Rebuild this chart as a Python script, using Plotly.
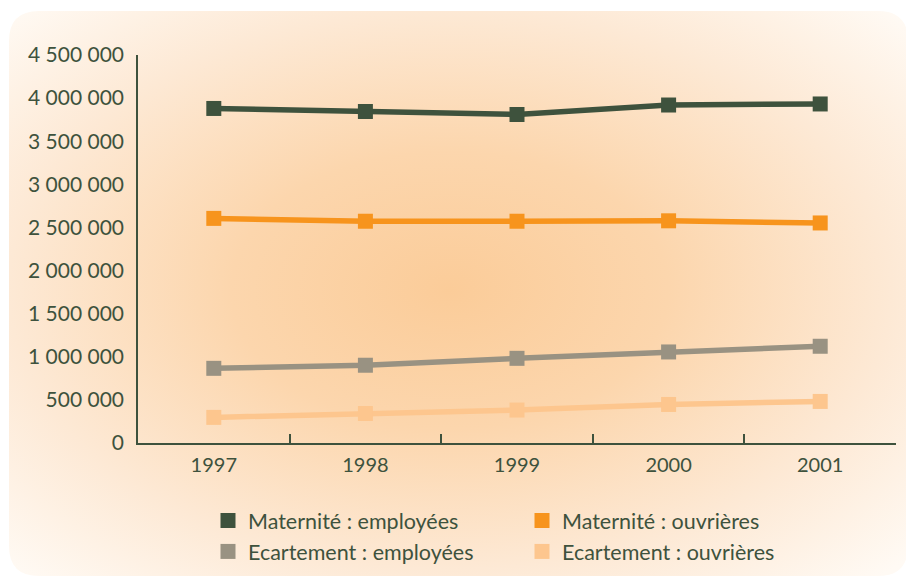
import plotly.graph_objects as go

years = ["1997", "1998", "1999", "2000", "2001"]
mat_employees = [3880000, 3845000, 3810000, 3920000, 3932000]
mat_ouvrieres = [2605000, 2572000, 2572000, 2577000, 2552000]
ecart_employees = [866000, 902000, 982000, 1056000, 1122000]
ecart_ouvrieres = [297000, 342000, 382000, 447000, 482000]

names = ["Maternité : employées", "Maternité : ouvrières",
         "Ecartement : employées", "Ecartement : ouvrières"]
series = [mat_employees, mat_ouvrieres, ecart_employees, ecart_ouvrieres]
colors = ["#3e523d", "#f7941d", "#999282", "#fdc68e"]

TXT = "#3e523d"
FONT = "Lato"
W, H = 906, 577

fig = go.Figure()

# radial gradient background (large ellipse bbox so that corners fade to white)
cx, cy, A, B = 450, 290, 624, 395
fig.add_trace(go.Scatter(
    x=[cx - A, cx + A, cx + A, cx - A, cx - A],
    y=[cy - B, cy - B, cy + B, cy + B, cy - B],
    mode="lines", line=dict(width=0), fill="toself",
    fillgradient=dict(type="radial",
                      colorscale=[[0, "#fbcc99"], [0.35, "#fcd6ad"],
                                  [0.707, "#fde9d5"], [1, "#fffaf4"]]),
    hoverinfo="skip", showlegend=False, xaxis="x", yaxis="y"))

for name, vals, col in zip(names, series, colors):
    fig.add_trace(go.Scatter(
        x=years, y=vals, mode="lines+markers", name=name,
        line=dict(color=col, width=5.5),
        marker=dict(symbol="square", size=15, color=col),
        showlegend=False, xaxis="x2", yaxis="y2"))

# legend entries (markers only)
for i, (name, col) in enumerate(zip(names, colors)):
    fig.add_trace(go.Scatter(
        x=[None], y=[None], mode="markers", name=name,
        marker=dict(symbol="square", size=15, color=col),
        legend="legend" if i % 2 == 0 else "legend2",
        legendgroup=name, xaxis="x2", yaxis="y2"))

# white mask outside the rounded card
L, T, R, Bm, r = 9, 11, 908, 576, 30
card = (f"M{L},{T + r} Q{L},{T} {L + r},{T} L{R - r},{T} Q{R},{T} {R},{T + r} "
        f"L{R},{Bm - r} Q{R},{Bm} {R - r},{Bm} L{L + r},{Bm} Q{L},{Bm} {L},{Bm - r} Z")
outer = f"M-5,-5 L{W + 5},-5 L{W + 5},{H + 5} L-5,{H + 5} Z "
fig.add_shape(type="path", path=outer + card, xref="x", yref="y",
              fillcolor="white", line=dict(width=0), fillrule="evenodd",
              layer="above")

fig.update_layout(
    width=W, height=H,
    margin=dict(l=0, r=0, t=0, b=0, autoexpand=False),
    paper_bgcolor="white",
    plot_bgcolor="rgba(0,0,0,0)",
    separators=", ",
    font=dict(family=FONT, color=TXT, size=20),
    xaxis=dict(domain=[0, 1], range=[0, W], visible=False, fixedrange=True,
               automargin=False),
    yaxis=dict(domain=[0, 1], range=[H, 0], visible=False, fixedrange=True,
               automargin=False),
    xaxis2=dict(domain=[138 / W, 896 / W], anchor="y2", type="category",
                range=[-0.5, 4.5], automargin=False,
                showline=True, linecolor=TXT, linewidth=1.5,
                ticks="inside", tickson="boundaries", ticklen=9, tickcolor=TXT,
                tickwidth=1.5, showgrid=False, zeroline=False,
                ticklabelstandoff=3,
                tickfont=dict(size=20, color=TXT, family=FONT)),
    yaxis2=dict(domain=[(H - 443) / H, (H - 55) / H], anchor="x2",
                range=[0, 4500000], dtick=500000, tick0=0, automargin=False,
                showline=True, linecolor=TXT, linewidth=1.5,
                ticks="", showgrid=False, zeroline=False,
                tickformat=",d", ticklabelstandoff=8,
                tickfont=dict(size=21, color=TXT, family=FONT)),
    legend=dict(x=208 / W, y=(H - 500) / H, xanchor="left", yanchor="top",
                orientation="v", bgcolor="rgba(0,0,0,0)", tracegroupgap=0,
                font=dict(size=21.5, color=TXT, family=FONT)),
    legend2=dict(x=522 / W, y=(H - 500) / H, xanchor="left", yanchor="top",
                 orientation="v", bgcolor="rgba(0,0,0,0)", tracegroupgap=0,
                 font=dict(size=21.5, color=TXT, family=FONT)),
)

fig.write_html("out.html", post_script="document.body.style.margin='0';",
               config={"displayModeBar": False})
